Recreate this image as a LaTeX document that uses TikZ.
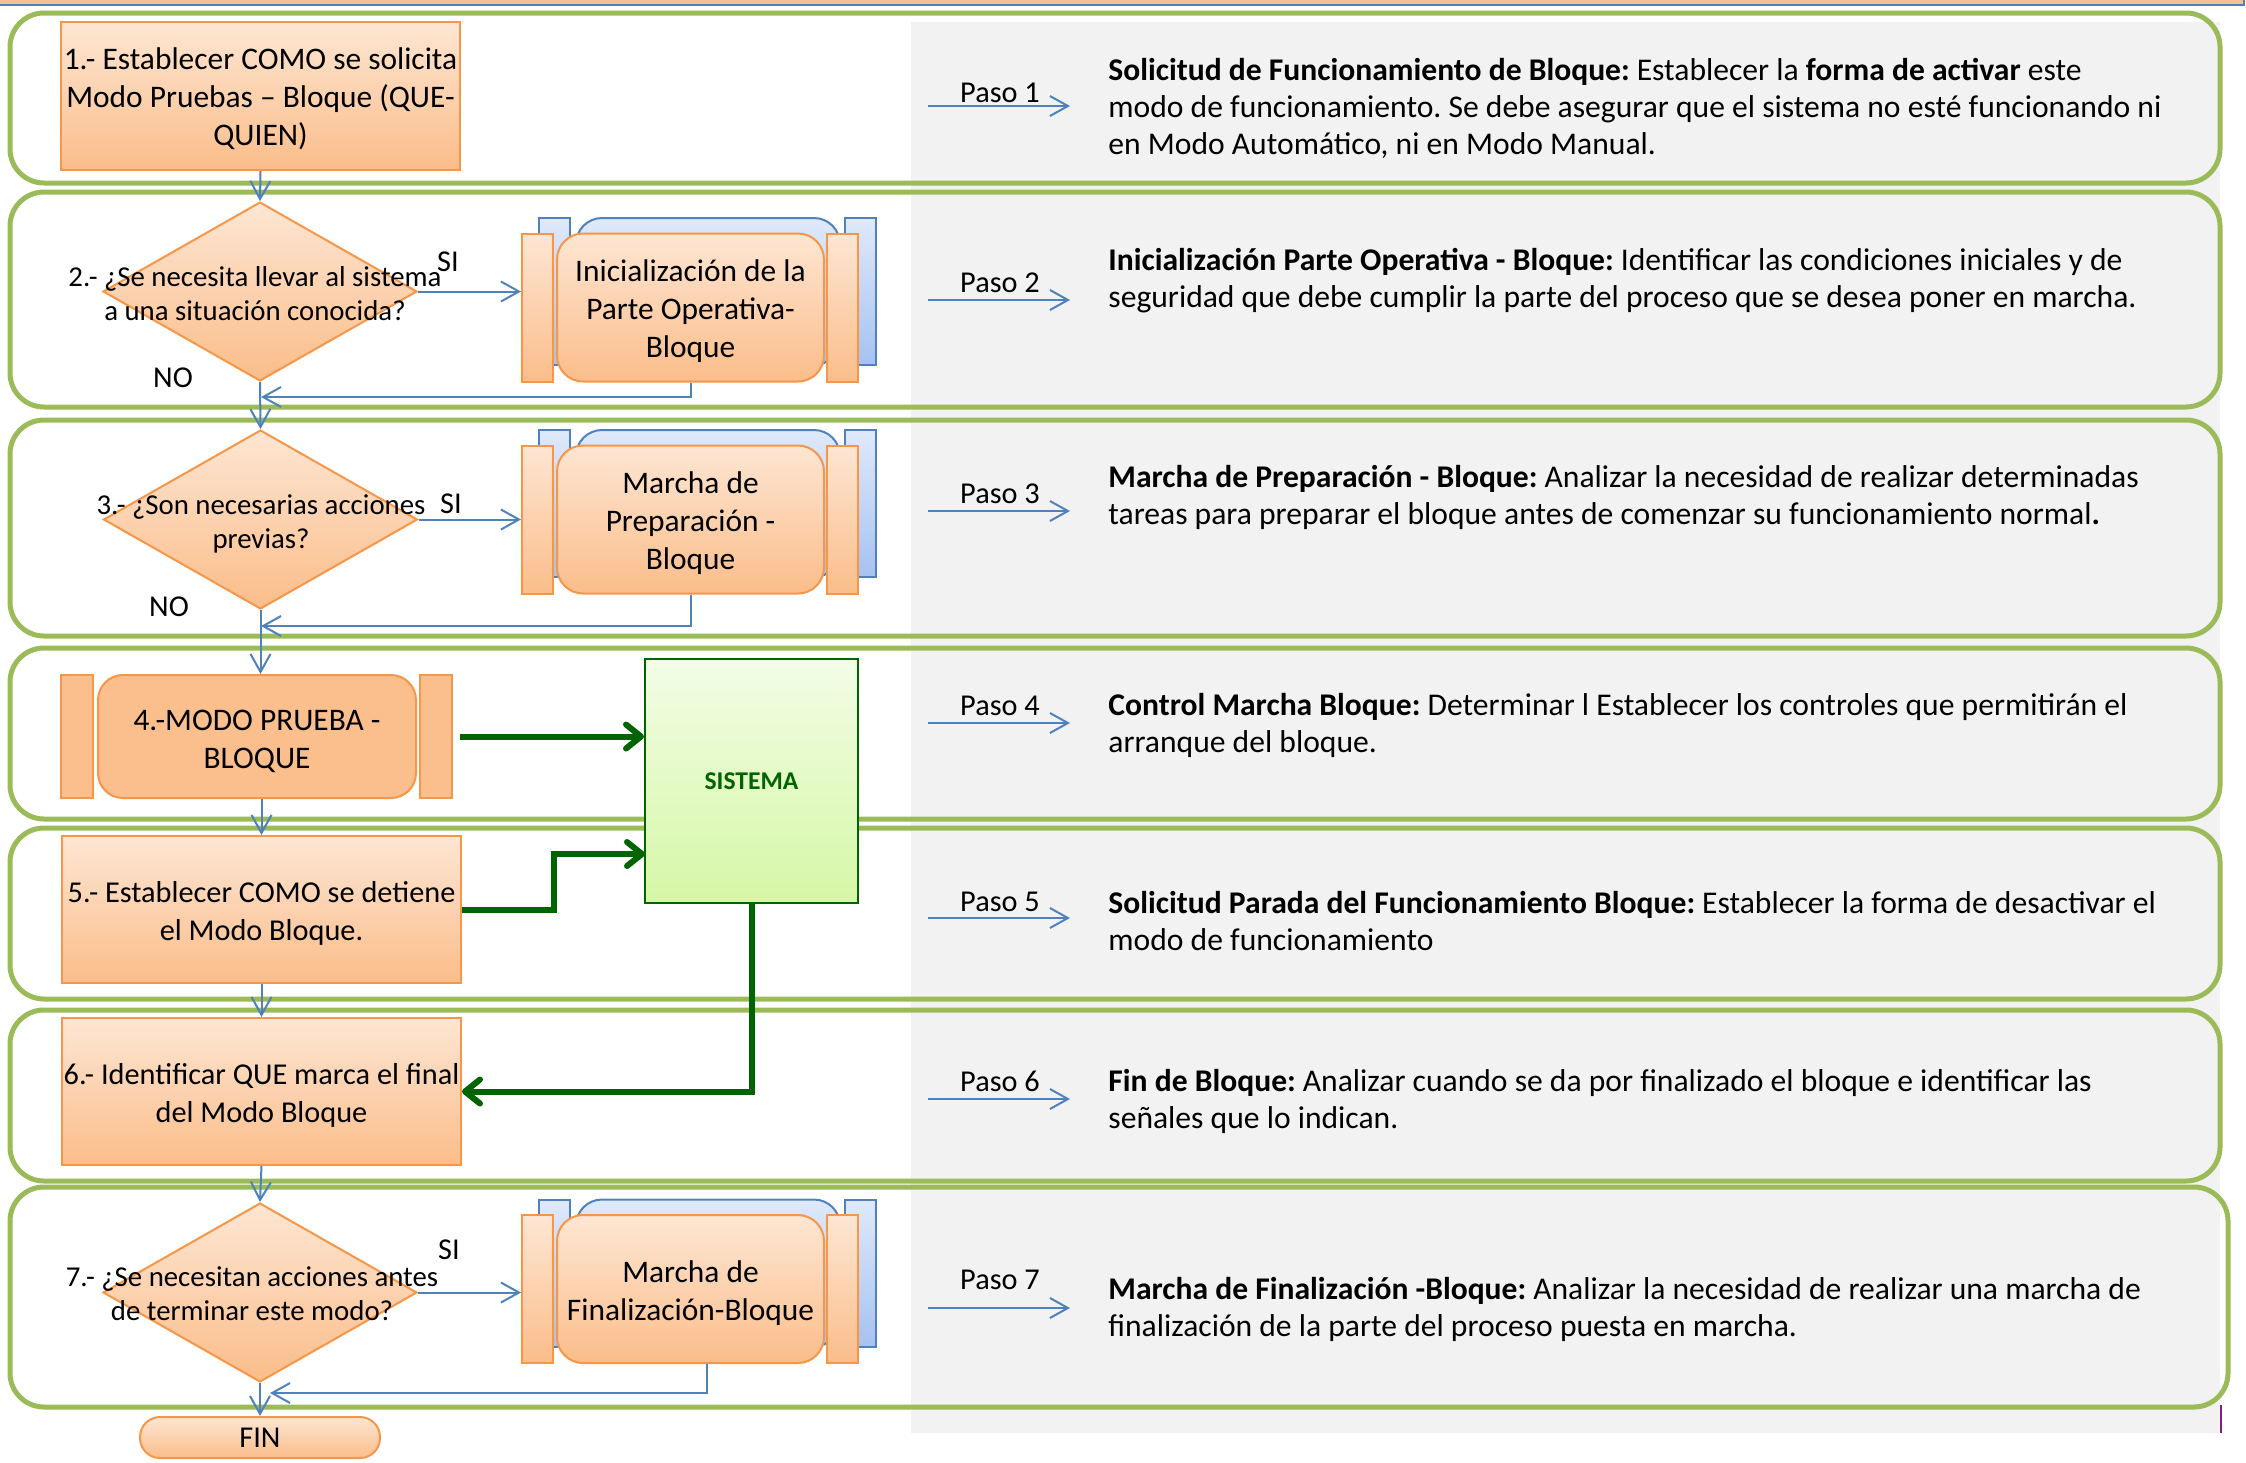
\documentclass[tikz,border=0pt]{standalone}
\usepackage{fontspec}
\setmainfont{Carlito}
\usetikzlibrary{shapes.geometric,arrows.meta,calc}
\frenchspacing

\definecolor{lanegreen}{HTML}{9BBB59}
\definecolor{panelgrey}{HTML}{F2F2F2}
\definecolor{orgline}{HTML}{F79646}
\definecolor{orgtop}{HTML}{FDE6D3}
\definecolor{orgbot}{HTML}{FBBD8A}
\definecolor{orgflat}{HTML}{FBBE8D}
\definecolor{blueline}{HTML}{4F81BD}
\definecolor{bluetop}{HTML}{DFE9FB}
\definecolor{bluebot}{HTML}{A6C2F0}
\definecolor{sysgreen}{HTML}{006400}
\definecolor{systop}{HTML}{F2FDE6}
\definecolor{sysbot}{HTML}{D6F7A6}
\definecolor{topband}{HTML}{FAC090}
\definecolor{purplemark}{HTML}{7F1F7F}

\newcommand\bodyfont{\fontsize{15.15}{19}\selectfont}
\newcommand\bigbodyfont{\fontsize{15.7}{19}\selectfont}
\newcommand\askfont{\fontsize{14.4}{17}\selectfont}
\newcommand\notefont{\fontsize{15.8}{18.5}\selectfont}
\newcommand\pasofont{\fontsize{15.15}{18.5}\selectfont}
% tall strut on a first line, to set a box text a little lower
\newcommand\topstrut[1][15pt]{\rule{0pt}{#1}}

% predefined process: blue copy behind, orange bars and rounded core in front
% #1 name, #2 x, #3 y, #4 text
\newcommand\predefproc[4]{%
  \node[shbar]  (#1sl) at (#2-136,#3-16) {};
  \node[shcore] (#1sc) at (#2+17.5,#3-16) {};
  \node[shbar]  (#1sr) at (#2+170,#3-16) {};
  \node[obar]   (#1l)  at (#2-153,#3) {};
  \node[ocore]  (#1)   at (#2,#3) {\topstrut#4};
  \node[obar]   (#1r)  at (#2+152,#3) {};
}

\begin{document}
\begin{tikzpicture}[x=0.5pt,y=-0.5pt,
  lane/.style={draw=lanegreen, line width=2.5pt, rounded corners=17pt},
  orangefill/.style={draw=orgline, line width=1pt, top color=orgtop, bottom color=orgbot},
  stepbox/.style={orangefill, rectangle, inner sep=0pt, align=center, font=\bodyfont,
    minimum width=199.5pt, minimum height=73.5pt},
  decision/.style={orangefill, diamond, inner sep=0pt, minimum width=157pt, minimum height=89.5pt},
  asktext/.style={align=center, font=\askfont, inner sep=0pt},
  lbl/.style={font=\bodyfont, inner sep=0pt},
  obar/.style={orangefill, rectangle, inner sep=0pt, minimum width=15.5pt, minimum height=74pt},
  ocore/.style={orangefill, rectangle, rounded corners=13pt, inner sep=0pt, align=center,
    font=\bigbodyfont, minimum width=133.5pt, minimum height=74pt},
  shbar/.style={draw=blueline, line width=1pt, top color=bluetop, bottom color=bluebot,
    rectangle, inner sep=0pt, minimum width=15.5pt, minimum height=73.5pt},
  shcore/.style={draw=blueline, line width=1pt, top color=bluetop, bottom color=bluebot,
    rectangle, rounded corners=13pt, inner sep=0pt, minimum width=132pt, minimum height=73.5pt},
  modebar/.style={draw=orgline, line width=1pt, fill=orgflat, rectangle, inner sep=0pt,
    minimum width=16pt, minimum height=61.5pt},
  modecore/.style={draw=orgline, line width=1pt, fill=orgflat, rectangle, rounded corners=12.5pt,
    inner sep=0pt, align=center, font=\bigbodyfont, minimum width=159pt, minimum height=61.5pt},
  endbox/.style={orangefill, rectangle, rounded corners=10pt, inner sep=0pt, font=\bodyfont,
    minimum width=120pt, minimum height=20.5pt},
  sysbox/.style={draw=sysgreen, line width=1pt, top color=systop, bottom color=sysbot,
    rectangle, inner sep=0pt, minimum width=106.5pt, minimum height=122pt,
    font=\fontsize{12.8}{15}\selectfont\bfseries, text=sysgreen},
  flow/.style={draw=blueline, line width=1pt, -{Straight Barb[length=9pt,width=10pt]}},
  sysflow/.style={draw=sysgreen, line width=3pt, -{Straight Barb[length=7.5pt,width=12pt,round]}},
  pasolbl/.style={font=\pasofont, inner sep=0pt},
  note/.style={font=\notefont, align=left, anchor=west, inner sep=0pt},
]
\useasboundingbox (0,0) rectangle (2246,1462);

% band along the top edge
\draw[blueline, fill=topband, line width=1pt] (-20,-20) rectangle (2244,5);

% grey description panel
\fill[panelgrey] (911,22) rectangle (2220,1433);

% lanes, one per step
\draw[lane] (10,13)   rectangle (2220,183);
\draw[lane] (10,192)  rectangle (2220,407);
\draw[lane] (10,420)  rectangle (2220,636);
\draw[lane] (10,648)  rectangle (2220,819);
\draw[lane] (10,828)  rectangle (2220,999);
\draw[lane] (10,1010) rectangle (2220,1181);
\draw[lane] (10,1187) rectangle (2228,1407);

\draw[purplemark, line width=1pt] (2221,1405) -- (2221,1433);

% ---- flow chart ----
\node[stepbox, minimum height=74pt, font=\bigbodyfont] (b1) at (260.5,96)
  {\topstrut[14pt]1.- Establecer COMO se solicita\\Modo Pruebas – Bloque (QUE-\\QUIEN)};

\node[decision] (d2) at (260,291.5) {};
\node[asktext] (t2) at (255,293.5) {2.- ¿Se necesita llevar al sistema\\a una situación conocida?};
\node[lbl] (si2) at (448,262) {SI};
\node[lbl] (no2) at (173,378) {NO};
\predefproc{p2}{690.5}{307.5}{Inicialización de la\\Parte Operativa-\\Bloque}

\node[decision] (d3) at (260.5,519.5) {};
\node[asktext] (t3) at (261,524) {3.- ¿Son necesarias acciones\\previas?};
\node[lbl] (si3) at (451,504) {SI};
\node[lbl] (no3) at (169,607) {NO};
\predefproc{p3}{690.5}{519.5}{Marcha de\\Preparación -\\Bloque}

\node[modebar] (b4l) at (77,736.5) {};
\node[modecore] (b4) at (257,736.5) {\topstrut4.-MODO PRUEBA -\\BLOQUE};
\node[modebar] (b4r) at (436,736.5) {};

\node[sysbox] (sys) at (751.5,781) {SISTEMA};

\node[stepbox] (b5) at (261.5,909.5) {\topstrut[14.5pt]5.- Establecer COMO se detiene\\el Modo Bloque.};
\node[stepbox] (b6) at (261.5,1091.5) {\topstrut[14.5pt]6.- Identificar QUE marca el final\\del Modo Bloque};

\node[decision] (d7) at (260,1292.5) {};
\node[asktext] (t7) at (252,1293.5) {7.- ¿Se necesitan acciones antes\\de terminar este modo?};
\node[lbl] (si7) at (449,1250) {SI};
\predefproc{p7}{690.5}{1289}{Marcha de\\Finalización-Bloque}

\node[endbox] (fin) at (260,1437.5) {FIN};

% joints where the return branches meet the main line
\coordinate (j2) at (261,397);
\coordinate (j3) at (261,626);
\coordinate (j7) at (270,1393);
\coordinate (s2) at (645,854);

% main line
\draw[flow] (b1.south) -- (d2.north);
\draw[flow] (d2.south) -- (d3.north);
\draw[flow] (d3.south) -- (d3.south |- b4.north);
\draw[flow] (b4.south -| b5.north) -- (b5.north);
\draw[flow] (b5.south) -- (b6.north);
\draw[flow] (b6.south) -- (d7.north);
\draw[flow] (d7.south) -- (fin.north);

% yes branches
\draw[flow] (d2.east) -- (d2.east -| p2l.west);
\draw[flow] (d3.east) -- (d3.east -| p3l.west);
\draw[flow] (d7.east) -- (d7.east -| p7l.west);

% returns
\draw[flow] (p2.south) |- (j2);
\draw[flow] (p3.south) |- (j3);
\draw[flow] ([xshift=8.25pt]p7.south) |- (j7);

% signals to and from the system
\draw[sysflow] ([xshift=3.5pt]b4r.east) -- (sys.west |- b4r.east);
\draw[sysflow] (b5.east) -- ++(46pt,0) |- (s2);
\draw[sysflow] (sys.south) |- (b6.east);

% ---- step descriptions ----
\foreach \n/\ya/\yl in {1/106/93, 2/300/283, 3/511/494, 4/723/706, 5/918/902, 6/1099/1081, 7/1308/1280}{
  \coordinate (pa\n) at (928,\ya);
  \coordinate (pb\n) at (1070,\ya);
  \draw[flow] (pa\n) -- (pb\n);
  \node[pasolbl] (paso\n) at (1000,\yl) {Paso \n};
}

\node[note] (n1) at (1108,108.5) {\textbf{Solicitud de Funcionamiento de Bloque:} Establecer la \textbf{forma de activar} este\\modo de funcionamiento. Se debe asegurar que el sistema no esté funcionando ni\\en Modo Automático, ni en Modo Manual.};
\node[note] (n2) at (1108,280.5) {\textbf{Inicialización Parte Operativa - Bloque:} Identificar las condiciones iniciales y de\\seguridad que debe cumplir la parte del proceso que se desea poner en marcha.};
\node[note] (n3) at (1108,497) {\textbf{Marcha de Preparación - Bloque:} Analizar la necesidad de realizar determinadas\\tareas para preparar el bloque antes de comenzar su funcionamiento normal\textbf{.}};
\node[note] (n4) at (1108,725) {\textbf{Control Marcha Bloque:} Determinar l Establecer los controles que permitirán el\\arranque del bloque.};
\node[note] (n5) at (1108,921) {\textbf{Solicitud Parada del Funcionamiento Bloque:} Establecer la forma de desactivar el\\modo de funcionamiento};
\node[note] (n6) at (1108,1101.5) {\textbf{Fin de Bloque:} Analizar cuando se da por finalizado el bloque e identificar las\\señales que lo indican.};
\node[note] (n7) at (1108,1309) {\textbf{Marcha de Finalización -Bloque:} Analizar la necesidad de realizar una marcha de\\finalización de la parte del proceso puesta en marcha.};

\end{tikzpicture}
\end{document}
